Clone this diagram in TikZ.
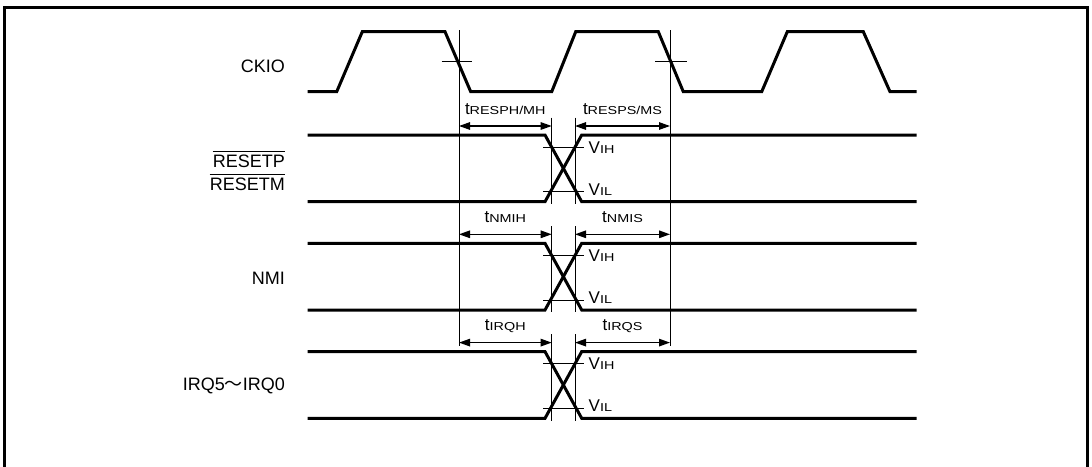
\documentclass[tikz,border=0pt]{standalone}
\usepackage{fontspec}
\usepackage{graphicx}
\setmainfont{Liberation Sans}
\newfontfamily\cjk{Noto Sans CJK JP}
\usetikzlibrary{arrows.meta}
\newcommand{\mysub}[1]{\scalebox{1.25}[1]{\fontsize{11.5}{12}\selectfont #1}}
\newcommand{\tlab}[1]{{\fontsize{17}{18}\selectfont t}\mysub{#1}}
\newcommand{\vlab}[1]{{\fontsize{17}{18}\selectfont V}\mysub{#1}}
\begin{document}
\begin{tikzpicture}[x=1pt,y=-1pt,
  sig/.style={line width=3pt,line join=miter},
  thinln/.style={line width=1pt},
  dimarrow/.style={line width=1.3pt,{Triangle[length=11pt,width=7.5pt]}-{Triangle[length=11pt,width=7.5pt]}},
  lab/.style={font=\fontsize{18}{20}\selectfont,inner sep=0pt},
  tl/.style={inner sep=0pt,anchor=base},
  vl/.style={inner sep=0pt,anchor=west}]
\useasboundingbox (0,0) rectangle (1092,466);
% frame
\draw[line width=2.5pt] (4.5,470) -- (4.5,7.5) -- (1087.5,7.5) -- (1087.5,470);

% signal names
\node[lab,anchor=east] (ckio) at (285,66) {CKIO};
\node[lab,anchor=east] (rp) at (285,161) {RESETP};
\node[lab,anchor=east] (rm) at (285,184) {RESETM};
\draw[line width=0.8pt] ([yshift=3.5pt]rp.north west) -- ([yshift=3.5pt]rp.north east);
\draw[line width=0.8pt] ([yshift=3.5pt]rm.north west) -- ([yshift=3.5pt]rm.north east);
\node[lab,anchor=east] (nmi) at (285,278) {NMI};
\node[lab,anchor=east] (irq) at (285,386) {IRQ5{\cjk ～}IRQ0};

% CKIO
\draw[sig] (307.7,91.7) -- (336.7,91.7) -- (362.3,31.7) -- (445,31.7) -- (470.7,91.7)
  -- (551.7,91.7) -- (575.7,31.7) -- (658.3,31.7) -- (683.3,91.7) -- (761.7,91.7)
  -- (787.3,31.7) -- (863.3,31.7) -- (890,91.7) -- (916.7,91.7);
\draw[thinln] (441.7,61.7) -- (471.7,61.7);
\draw[thinln] (655,61.7) -- (686.7,61.7);

% reference verticals
\coordinate (v1top) at (459,30);
\coordinate (v1bot) at (459,346);
\coordinate (v2top) at (670,30);
\coordinate (v2bot) at (670,346);
\draw[thinln] (v1top) -- (v1bot);
\draw[thinln] (v2top) -- (v2bot);

% groups
\foreach \off/\hl/\sl in {0/{RESPH/MH}/{RESPS/MS}, 108.3/NMIH/NMIS, 216.6/IRQH/IRQS}{
  \pgfmathsetmacro{\H}{135+\off}
  \pgfmathsetmacro{\L}{201.7+\off}
  \pgfmathsetmacro{\yh}{147.3+\off}
  \pgfmathsetmacro{\yl}{191.7+\off}
  \pgfmathsetmacro{\A}{126+\off}
  \pgfmathsetmacro{\T}{117.7+\off}
  \pgfmathsetmacro{\B}{204+\off}
  \draw[sig] (307.7,\H) -- (545,\H) -- (581.7,\L) -- (916.7,\L);
  \draw[sig] (307.7,\L) -- (545,\L) -- (581.7,\H) -- (916.7,\H);
  \coordinate (xat) at (551.7,\T);
  \coordinate (xab) at (551.7,\B);
  \coordinate (xbt) at (575,\T);
  \coordinate (xbb) at (575,\B);
  \draw[thinln] (xat) -- (xab);
  \draw[thinln] (xbt) -- (xbb);
  \draw[thinln] (543,\yh) -- (584,\yh);
  \draw[thinln] (543,\yl) -- (584,\yl);
  \node[vl] at (588.5,\yh) {\vlab{IH}};
  \node[vl] at (588.5,\yl-2.5) {\vlab{IL}};
  \coordinate (al) at (459,\A);
  \coordinate (am) at (551.7,\A);
  \coordinate (an) at (575,\A);
  \coordinate (ar) at (670,\A);
  \draw[dimarrow] (al) -- (am);
  \draw[dimarrow] (an) -- (ar);
  \node[tl] at (505.3,\A-12) {\tlab{\hl}};
  \node[tl] at (622.5,\A-12) {\tlab{\sl}};
}
\end{tikzpicture}
\end{document}
